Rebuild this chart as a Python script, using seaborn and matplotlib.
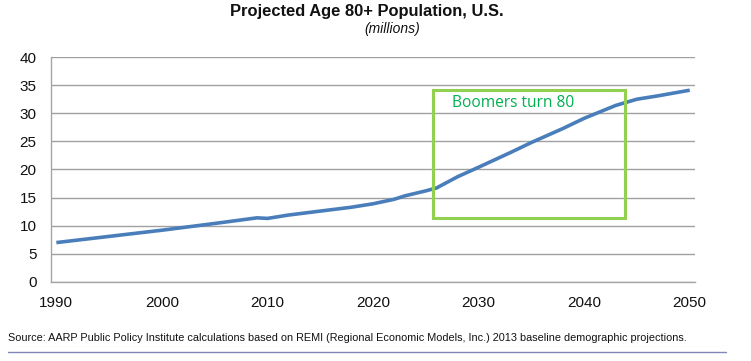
import numpy as np
import pandas as pd
import matplotlib
matplotlib.use("Agg")
import matplotlib.pyplot as plt
import seaborn as sns
from matplotlib.patches import Rectangle
from matplotlib.lines import Line2D

# values (millions, age 80+)
years = [1990, 1995, 2000, 2005, 2009, 2010, 2012, 2015, 2018, 2020, 2022,
         2023, 2025, 2026, 2028, 2030, 2033, 2035, 2038, 2040, 2043, 2045,
         2047, 2050]
population = [7.0, 8.1, 9.2, 10.4, 11.4, 11.3, 11.9, 12.6, 13.3, 13.9, 14.7,
              15.3, 16.2, 16.7, 18.7, 20.4, 23.0, 24.8, 27.3, 29.1, 31.4,
              32.5, 33.1, 34.1]
x_ticks = [1990, 2000, 2010, 2020, 2030, 2040, 2050]
y_ticks = [0, 5, 10, 15, 20, 25, 30, 35, 40]

title = "Projected Age 80+ Population, U.S."
subtitle = "(millions)"
box_label = "Boomers turn 80"
source = ("Source: AARP Public Policy Institute calculations based on REMI "
          "(Regional Economic Models, Inc.) 2013 baseline demographic projections.")

df = pd.DataFrame({"Year": years, "Population": population})

sns.set_style("white")
plt.rcParams["font.family"] = ["Liberation Sans", "DejaVu Sans"]

fig = plt.figure(figsize=(7.51, 3.61), dpi=100)
ax = fig.add_axes([0.068, 0.219, 0.857, 0.623])

sns.lineplot(data=df, x="Year", y="Population", ax=ax, color="#4A7EBB",
             linewidth=2.6, solid_capstyle="butt")

# category-style axis: labels on the years, tick marks between them
ax.set_xlim(1989.53, 2050.47)
ax.set_ylim(0, 40)
ax.set_xticks(x_ticks)
ax.set_xticks([y - 0.5 for y in x_ticks], minor=True)
ax.set_yticks(y_ticks)
ax.set_xlabel("")
ax.set_ylabel("")
ax.grid(axis="y", color="#A0A0A0", linewidth=1.0)
ax.set_axisbelow(True)
for side in ["top", "right"]:
    ax.spines[side].set_visible(False)
for side in ["left", "bottom"]:
    ax.spines[side].set_color("#A6A6A6")
    ax.spines[side].set_linewidth(1.0)
ax.tick_params(axis="y", which="major", direction="out", length=4, width=1,
               color="#A6A6A6", labelsize=11, labelcolor="#111111", pad=6.5)
ax.tick_params(axis="x", which="major", length=0, labelsize=11,
               labelcolor="#111111", pad=10)
ax.tick_params(axis="x", which="minor", direction="out", length=4, width=1,
               color="#A6A6A6")

# annotation box
box = Rectangle((2025.7, 11.4), 2043.85 - 2025.7, 34.2 - 11.4, fill=False,
                edgecolor="#92D050", linewidth=2.2, zorder=3)
ax.add_patch(box)
ax.text(2027.5, 31.9, box_label, color="#00B050", fontsize=11.2,
        family=["Open Sans", "DejaVu Sans"], va="center", ha="left")

fig.text(0.489, 0.968, title, ha="center", va="center", fontsize=11.9,
         fontweight="bold", color="#111111")
fig.text(0.522, 0.920, subtitle, ha="center", va="center", fontsize=10,
         fontstyle="italic", color="#111111")
fig.text(0.010, 0.064, source, ha="left", va="center", fontsize=7.87,
         color="#111111")
fig.add_artist(Line2D([0.010, 0.967], [0.025, 0.025], color="#8087B8",
                      linewidth=1.0, transform=fig.transFigure))

fig.savefig("out.png", dpi=100)
